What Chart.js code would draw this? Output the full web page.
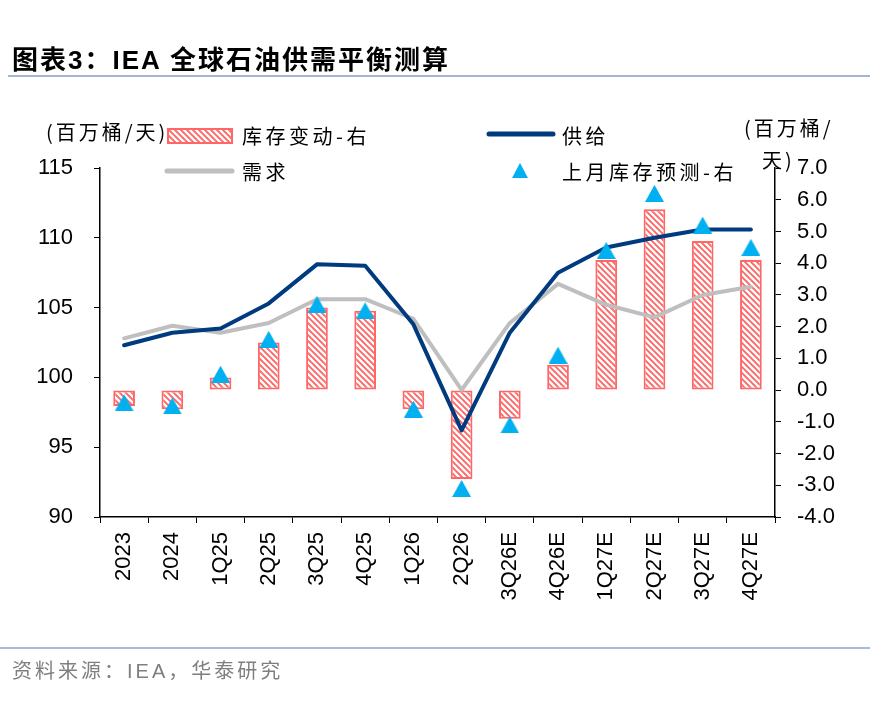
<!DOCTYPE html>
<html lang="zh">
<head>
<meta charset="UTF-8">
<title>IEA 全球石油供需平衡测算</title>
<script src="https://cdn.jsdelivr.net/npm/chart.js"></script>
<style>
    body { margin: 0; background: #fff; }
    .page { position: relative; width: 870px; height: 716px; overflow: hidden; }
    .title {
        position: absolute; left: 12px; top: 39px;
        font: bold 26px "Liberation Sans", "Noto Sans CJK SC", sans-serif;
        letter-spacing: 2px; color: #000; white-space: nowrap;
    }
    .rule-top { position: absolute; left: 8px; right: 0; top: 75px; height: 2px; background: #a3b6cc; }
    .rule-bottom { position: absolute; left: 0; right: 0; top: 647px; height: 2px; background: #a9bcd4; }
    .source {
        position: absolute; left: 12px; top: 655px;
        font: 20px "Liberation Sans", "Noto Sans CJK SC", sans-serif;
        letter-spacing: 3px; color: #7f7f7f; white-space: nowrap;
    }
    .chart-box { position: absolute; left: 0; top: 0; width: 870px; height: 716px; }
</style>
</head>
<body>
<div class="page">
    <div class="chart-box"><canvas id="oilChart"></canvas></div>
    <div class="title">图表3：IEA 全球石油供需平衡测算</div>
    <div class="rule-top"></div>
    <div class="rule-bottom"></div>
    <div class="source">资料来源：IEA，华泰研究</div>
</div>

<script>
    // data
    const categories = ['2023', '2024', '1Q25', '2Q25', '3Q25', '4Q25', '1Q26', '2Q26',
        '3Q26E', '4Q26E', '1Q27E', '2Q27E', '3Q27E', '4Q27E'];
    const supply = [102.3, 103.2, 103.5, 105.3, 108.1, 108.0, 103.8, 96.2, 103.2, 107.5, 109.3, 110.0, 110.6, 110.6];
    const demand = [102.8, 103.7, 103.2, 103.9, 105.6, 105.6, 104.2, 99.1, 103.9, 106.7, 105.2, 104.3, 105.9, 106.5];
    const stockChange = [-0.5, -0.6, 0.4, 1.5, 2.6, 2.5, -0.6, -2.8, -0.9, 0.8, 4.1, 5.7, 4.7, 4.1];
    const lastMonthForecast = [-0.4, -0.5, 0.5, 1.6, 2.7, 2.5, -0.6, -3.1, -1.1, 1.1, 4.4, 6.2, 5.2, 4.5];
    const leftTicks = [90, 115, 5];     // min, max, step
    const rightTicks = [-4, 7, 1];

    const RED = '#ff6666';
    const NAVY = '#003b7f';
    const GREY = '#bfbfbf';
    const BLUE = '#00b0f0';
    const CJK = '"Noto Sans CJK SC", sans-serif';
    const NUM = '"Liberation Sans", Arial, sans-serif';

    // red / white diagonal hatch like the excel pattern fill
    function makeStripes() {
        const n = 6;
        const c = document.createElement('canvas');
        c.width = n; c.height = n;
        const g = c.getContext('2d');
        g.fillStyle = RED;
        g.fillRect(0, 0, n, n);
        g.strokeStyle = '#fff';
        g.lineWidth = 2.3;
        g.beginPath();
        for (let k = -1; k <= 1; k++) {
            g.moveTo(-1, -1 + k * n);
            g.lineTo(n + 1, n + 1 + k * n);
        }
        g.stroke();
        return c.getContext('2d').createPattern(c, 'repeat');
    }

    function makeTriangle(w, h) {
        const c = document.createElement('canvas');
        c.width = w; c.height = h;
        const g = c.getContext('2d');
        g.fillStyle = BLUE;
        g.beginPath();
        g.moveTo(w / 2, 0);
        g.lineTo(w, h);
        g.lineTo(0, h);
        g.closePath();
        g.fill();
        return c;
    }

    const stripes = makeStripes();
    const triangle = makeTriangle(19, 17);
    const legendTriangle = makeTriangle(16, 15);

    // legend and unit labels drawn by hand, positions as in the reference
    const overlay = {
        id: 'overlay',
        afterDraw(chart) {
            const ctx = chart.ctx;
            ctx.save();
            ctx.textBaseline = 'middle';
            ctx.fillStyle = '#000';
            ctx.font = '20px ' + CJK;
            ctx.letterSpacing = '3px';

            ctx.fillText('(百万桶/天)', 46, 132);
            ctx.fillText('(百万桶/', 744, 128);
            ctx.fillText('天)', 762, 160);

            ctx.letterSpacing = '3.5px';
            // 库存变动-右
            ctx.fillStyle = stripes;
            ctx.fillRect(168, 129, 64, 14);
            ctx.strokeStyle = RED;
            ctx.lineWidth = 2;
            ctx.strokeRect(168, 129, 64, 14);
            ctx.fillStyle = '#000';
            ctx.fillText('库存变动-右', 242, 136);

            // 供给
            ctx.lineCap = 'round';
            ctx.lineWidth = 5;
            ctx.strokeStyle = NAVY;
            ctx.beginPath(); ctx.moveTo(489, 134); ctx.lineTo(553, 134); ctx.stroke();
            ctx.fillText('供给', 562, 136);

            // 需求
            ctx.strokeStyle = GREY;
            ctx.beginPath(); ctx.moveTo(167, 171); ctx.lineTo(232, 171); ctx.stroke();
            ctx.fillText('需求', 242, 172);

            // 上月库存预测-右
            ctx.drawImage(legendTriangle, 512, 163);
            ctx.fillText('上月库存预测-右', 562, 172);
            ctx.restore();
        }
    };

    const ctx = document.getElementById('oilChart').getContext('2d');
    const oilChart = new Chart(ctx, {
        type: 'bar',
        data: {
            labels: categories,
            datasets: [
                {
                    type: 'line',
                    label: '上月库存预测-右',
                    data: lastMonthForecast,
                    yAxisID: 'y1',
                    showLine: false,
                    pointStyle: triangle,
                    pointRadius: 9,
                    order: 0
                },
                {
                    type: 'line',
                    label: '供给',
                    data: supply,
                    yAxisID: 'y',
                    borderColor: NAVY,
                    borderWidth: 4,
                    borderCapStyle: 'round',
                    borderJoinStyle: 'round',
                    pointRadius: 0,
                    tension: 0,
                    order: 1
                },
                {
                    type: 'line',
                    label: '需求',
                    data: demand,
                    yAxisID: 'y',
                    borderColor: GREY,
                    borderWidth: 4,
                    borderCapStyle: 'round',
                    borderJoinStyle: 'round',
                    pointRadius: 0,
                    tension: 0,
                    order: 2
                },
                {
                    label: '库存变动-右',
                    data: stockChange,
                    yAxisID: 'y1',
                    backgroundColor: stripes,
                    borderColor: RED,
                    borderWidth: 2,
                    borderSkipped: false,
                    barPercentage: 0.45,
                    categoryPercentage: 1,
                    order: 3
                }
            ]
        },
        options: {
            responsive: true,
            maintainAspectRatio: false,
            animation: false,
            layout: { padding: { top: 168, left: 0, right: 0, bottom: 0 } },
            plugins: {
                legend: { display: false },
                tooltip: { enabled: false }
            },
            scales: {
                x: {
                    afterFit(s) { s.height = 199; },
                    grid: { drawOnChartArea: false, color: '#000', tickLength: 6, offset: true },
                    border: { color: '#000', width: 1.5 },
                    ticks: {
                        autoSkip: false, minRotation: 90, maxRotation: 90,
                        padding: 9, color: '#000', font: { family: NUM, size: 22 }
                    }
                },
                y: {
                    position: 'left',
                    min: leftTicks[0], max: leftTicks[1],
                    afterFit(s) { s.width = 100; },
                    grid: { drawOnChartArea: false, color: '#000', tickLength: 6 },
                    border: { color: '#000', width: 1.5 },
                    ticks: {
                        stepSize: leftTicks[2], padding: 21, color: '#000',
                        font: { family: NUM, size: 22 }
                    }
                },
                y1: {
                    position: 'right',
                    min: rightTicks[0], max: rightTicks[1],
                    afterFit(s) { s.width = 95; },
                    grid: { drawOnChartArea: false, color: '#000', tickLength: 6 },
                    border: { color: '#000', width: 1.5 },
                    ticks: {
                        stepSize: rightTicks[2], padding: 16, color: '#000',
                        font: { family: NUM, size: 22 },
                        callback: v => v.toFixed(1)
                    }
                }
            }
        },
        plugins: [overlay]
    });
</script>
</body>
</html>
